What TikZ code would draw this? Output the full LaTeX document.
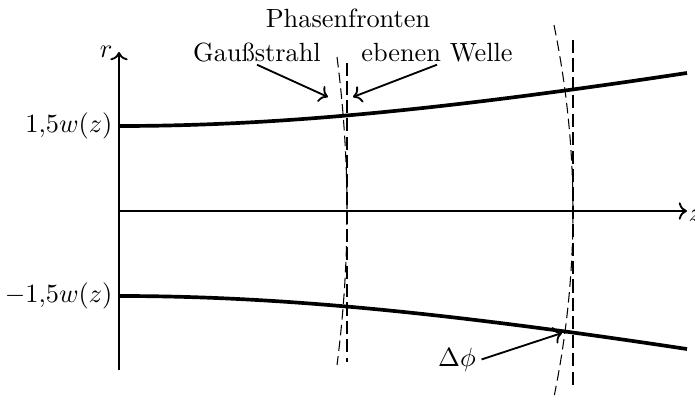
\documentclass[tikz,border=0pt]{standalone}
\usetikzlibrary{arrows.meta}
\begin{document}
\begin{tikzpicture}[x=0.38pt,y=-0.38pt,
  axis/.style={line width=0.7pt,->},
  beam/.style={line width=1.4pt},
  planewave/.style={line width=0.9pt,dash pattern=on 5pt off 2pt},
  gaussfront/.style={line width=0.4pt,dash pattern=on 4pt off 2pt},
  pointer/.style={line width=0.7pt,->},
  lbl/.style={inner sep=1pt}]
\useasboundingbox (0,0) rectangle (695,396);
% axes
\coordinate (rbot) at (119,370);
\coordinate (rtop) at (119,52);
\coordinate (zstart) at (119,211);
\coordinate (ztip) at (687,211);
\draw[axis] (rbot) -- (rtop);
\draw[axis] (zstart) -- (ztip);
\node[anchor=base east,inner sep=0pt] (rlab) at (113,57) {$r$};
\node[anchor=west,inner sep=0pt] (zlab) at (688,216) {$z$};
% beam envelope
\draw[beam] plot[domain=0:568,samples=60] ({119+\x},{211-85*sqrt(1+(\x/444)^2)});
\draw[beam] plot[domain=0:568,samples=60] ({119+\x},{211+85*sqrt(1+(\x/444)^2)});
\node[anchor=east,inner sep=0pt] (wplus) at (113,126) {$1{,}5w(z)$};
\node[anchor=east,inner sep=0pt] (wminus) at (113,296) {$-1{,}5w(z)$};
% plane wave fronts
\coordinate (p1t) at (347,63);
\coordinate (p1b) at (347,362);
\coordinate (p2t) at (573,40);
\coordinate (p2b) at (573,385);
\draw[planewave] (p1t) -- (p1b);
\draw[planewave] (p2t) -- (p2b);
% gaussian wave fronts
\draw[gaussfront] plot[domain=-154:154,samples=40] ({347-10*(\x/154)^2},{211+\x});
\draw[gaussfront] plot[domain=-186:184,samples=40] ({573-19*(\x/186)^2},{211+\x});
% labels
\node[anchor=base,lbl] (phasen) at (348,27) {Phasenfronten};
\node[anchor=base,lbl] (gauss) at (257,61) {Gaußstrahl};
\node[anchor=base,lbl] (welle) at (437,61) {ebenen Welle};
\node[anchor=base,inner sep=2pt] (dphi) at (457,366) {$\Delta\phi$};
\coordinate (gtip) at (328,97);
\coordinate (wtip) at (353,97);
\coordinate (dtip) at (562,333);
\draw[pointer] (gauss.south) -- (gtip);
\draw[pointer] (welle.south) -- (wtip);
\draw[pointer] (dphi.east) -- (dtip);
\end{tikzpicture}
\end{document}
